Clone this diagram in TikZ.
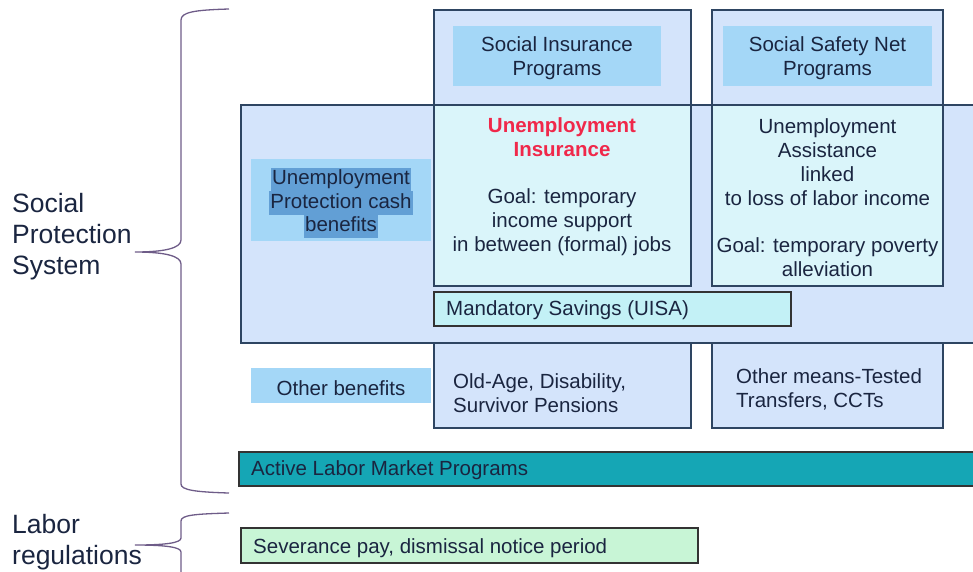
\documentclass[tikz,border=0pt]{standalone}
\usepackage{fontspec}
\setmainfont{Liberation Sans}
\definecolor{lb}{HTML}{D4E4FB}
\definecolor{hdr}{HTML}{A4D7F7}
\definecolor{uic}{HTML}{DAF5FA}
\definecolor{mand}{HTML}{C3F1F6}
\definecolor{tealc}{HTML}{15A6B5}
\definecolor{sev}{HTML}{C8F5D6}
\definecolor{navy}{HTML}{2E4562}
\definecolor{ink}{HTML}{1A2540}
\definecolor{uired}{HTML}{F0284A}
\definecolor{hl}{HTML}{629FD5}
\definecolor{bracec}{HTML}{6E5C88}
\begin{document}
\begin{tikzpicture}[x=1pt,y=-1pt,
  box/.style={draw=navy, line width=1.3pt, fill=lb, rectangle, inner sep=0pt},
  hdrbox/.style={fill=hdr, rectangle, inner sep=0pt},
  darkbox/.style={draw=black!80, line width=1.3pt, rectangle, inner sep=0pt},
  txt/.style={text=ink, font=\fontsize{20.5}{23.8}\selectfont, inner sep=0pt},
  bigtxt/.style={text=ink, font=\fontsize{26.5}{31}\selectfont, inner sep=0pt, align=left, anchor=west},
  hlline/.style={txt, fill=hl, inner xsep=1pt, minimum height=23.5pt, text height=15pt, text depth=5pt},
  bracepath/.style={draw=bracec, line width=1.3pt}
]
\useasboundingbox (0,0) rectangle (973,571);
\clip (0,0) rectangle (973,571);

% columns
\node[box, minimum width=257pt, minimum height=418pt] (sicol) at (562.5,219) {};
\node[box, minimum width=231pt, minimum height=418pt] (ssncol) at (827.5,219) {};
% big unemployment protection box
\node[box, minimum width=749pt, minimum height=238pt] (upbox) at (615.5,224) {};
% headers
\node[hdrbox, minimum width=208pt, minimum height=60pt] (sihdr) at (557,56) {};
\node[txt, align=center] (sihdrt) at (557,58) {Social Insurance\\Programs};
\node[hdrbox, minimum width=209pt, minimum height=60pt] (ssnhdr) at (827.5,56) {};
\node[txt, align=center] (ssnhdrt) at (827.5,58) {Social Safety Net\\Programs};
% UI and UA boxes
\node[box, fill=uic, minimum width=257pt, minimum height=181pt] (uibox) at (562.5,195.5) {};
\node[txt, align=center] (uitxt) at (562,186.5) {{\color{uired}\bfseries Unemployment}\\{\color{uired}\bfseries Insurance}\\ ~ \\Goal: temporary\\income support\\in between (formal) jobs};
\node[box, fill=uic, minimum width=231pt, minimum height=181pt] (uabox) at (827.5,195.5) {};
\node[txt, align=center] (uatxt) at (827.5,198) {Unemployment\\Assistance\\linked\\to loss of labor income\\ ~ \\Goal: temporary poverty\\alleviation};
% mandatory savings
\node[darkbox, fill=mand, minimum width=357pt, minimum height=34pt] (mandbox) at (612.5,309) {};
\node[txt, anchor=west] (mandtxt) at (446,310.5) {Mandatory Savings (UISA)};
% unemployment protection cash benefits label
\node[hdrbox, minimum width=180pt, minimum height=82pt] (upcb) at (341,200) {};
\node[hlline] (upcb1) at (341,179.5) {Unemployment};
\node[hlline] (upcb2) at (341,203) {Protection cash};
\node[hlline] (upcb3) at (341,226.5) {benefits};
% other benefits
\node[hdrbox, minimum width=180pt, minimum height=35pt] (othb) at (341,385.5) {};
\node[txt] (othbt) at (341,388) {Other benefits};
\node[txt, align=left, anchor=west] (oldage) at (453,393.5) {Old-Age, Disability,\\Survivor Pensions};
\node[txt, align=left, anchor=west] (means) at (736,389.5) {Other means-Tested\\Transfers, CCTs};
% active labor market programs
\node[darkbox, fill=tealc, minimum width=751pt, minimum height=34pt] (almp) at (614.5,469) {};
\node[txt, anchor=west] (almpt) at (251,470) {Active Labor Market Programs};
% severance
\node[darkbox, fill=sev, minimum width=457pt, minimum height=35pt] (sevbox) at (469.5,545.5) {};
\node[txt, anchor=west] (sevt) at (253,548) {Severance pay, dismissal notice period};
% left labels
\node[bigtxt] (sps) at (12,236.5) {Social\\Protection\\System};
\node[bigtxt] (labreg) at (12,542.5) {Labor\\regulations};
% braces
\path[bracepath] (229,9) .. controls (195,10) and (181,12) .. (181,20) -- (181,240)
  .. controls (181,248) and (165,252) .. (135,252)
  .. controls (165,252) and (181,256) .. (181,264) -- (181,484)
  .. controls (181,490) and (195,492) .. (229,493);
\path[bracepath] (229,513) .. controls (195,514) and (181,515) .. (181,521) -- (181,538)
  .. controls (181,543) and (165,545) .. (135,545)
  .. controls (165,545) and (181,547) .. (181,552) -- (181,590);
\end{tikzpicture}
\end{document}
